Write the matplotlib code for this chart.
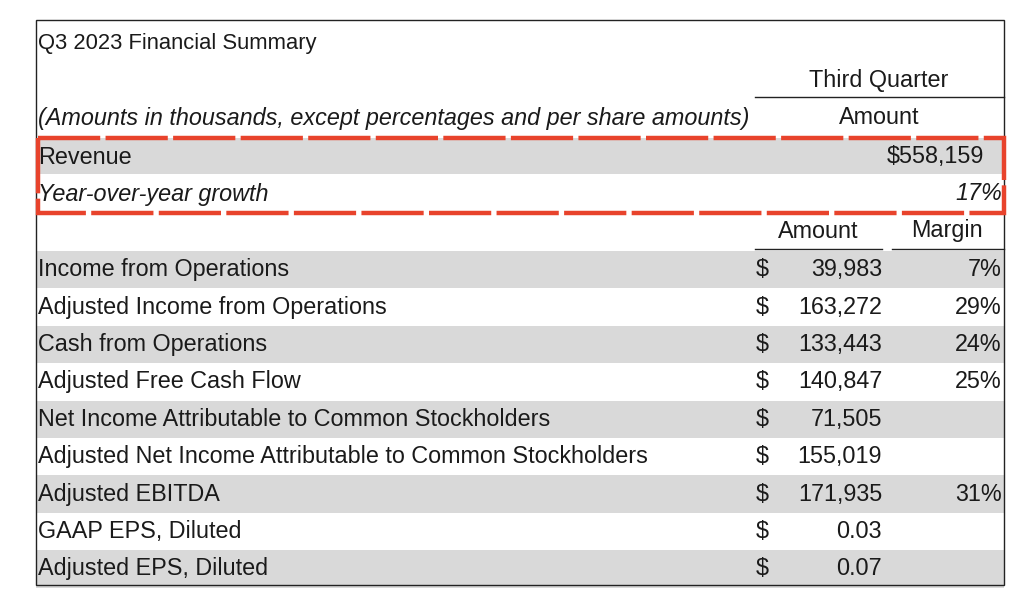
import matplotlib.pyplot as plt
from matplotlib.patches import Rectangle

title = "Q3 2023 Financial Summary"
subtitle = "(Amounts in thousands, except percentages and per share amounts)"
revenue = "$558,159"
yoy_growth = "17%"

labels = ["Income from Operations", "Adjusted Income from Operations", "Cash from Operations",
          "Adjusted Free Cash Flow", "Net Income Attributable to Common Stockholders",
          "Adjusted Net Income Attributable to Common Stockholders", "Adjusted EBITDA",
          "GAAP EPS, Diluted", "Adjusted EPS, Diluted"]
amounts = ["39,983", "163,272", "133,443", "140,847", "71,505", "155,019", "171,935", "0.03", "0.07"]
margins = ["7%", "29%", "24%", "25%", "", "", "31%", "", ""]

plt.rcParams["font.family"] = "Liberation Sans"
fig = plt.figure(figsize=(10.24, 6.02), dpi=100)
ax = fig.add_axes([0, 0, 1, 1])
ax.set_xlim(0, 1024)
ax.set_ylim(602, 0)
ax.axis("off")

L, R = 36, 1004
gray = "#d9d9d9"
fs = 16.8
tc = "#1a1a1a"

# outer border
ax.add_patch(Rectangle((L, 20), R - L, 565, fill=False, ec="#222", lw=1, zorder=5))

ax.text(L + 2, 43, title, fontsize=fs - 1, va="center", color=tc)
ax.text(879, 80, "Third Quarter", fontsize=fs, va="center", ha="center", color=tc)
ax.plot([755, R], [97, 97], color="#222", lw=1)
ax.text(L + 2, 119, subtitle, fontsize=fs, va="center", style="italic", color=tc)
ax.text(879, 118, "Amount", fontsize=fs, va="center", ha="center", color=tc)

# revenue rows
ax.add_patch(Rectangle((L, 138), R - L, 36, color=gray, lw=0))
ax.text(L + 2, 157, "Revenue", fontsize=fs, va="center", color=tc)
ax.text(R - 20, 157, revenue, fontsize=fs, va="center", ha="right", color=tc)
ax.text(L + 2, 194, "Year-over-year growth", fontsize=fs, va="center", style="italic", color=tc)
ax.text(R - 2, 194, yoy_growth, fontsize=fs, va="center", ha="right", style="italic", color=tc)

# red highlight box
ax.add_patch(Rectangle((38, 138), 966, 75, fill=False, ec="#e8432c", lw=3.2,
                       linestyle=(0, (14, 1.2)), zorder=6))

# column headers
ax.text(818, 231, "Amount", fontsize=fs, va="center", ha="center", color=tc)
ax.text(947, 231, "Margin", fontsize=fs, va="center", ha="center", color=tc)
ax.plot([755, 882], [249, 249], color="#222", lw=1)
ax.plot([892, R], [249, 249], color="#222", lw=1)

top, h = 251, 37.4
for i, (lab, amt, mar) in enumerate(zip(labels, amounts, margins)):
    y0 = top + i * h
    yc = y0 + h / 2
    if i % 2 == 0:
        ax.add_patch(Rectangle((L, y0), R - L, h, color=gray, lw=0))
    ax.text(L + 2, yc, lab, fontsize=fs, va="center", color=tc)
    ax.text(756, yc, "$", fontsize=fs, va="center", color=tc)
    ax.text(882, yc, amt, fontsize=fs, va="center", ha="right", color=tc)
    if mar:
        ax.text(R - 2, yc, mar, fontsize=fs, va="center", ha="right", color=tc)

fig.savefig("out.png", dpi=100, facecolor="white")
